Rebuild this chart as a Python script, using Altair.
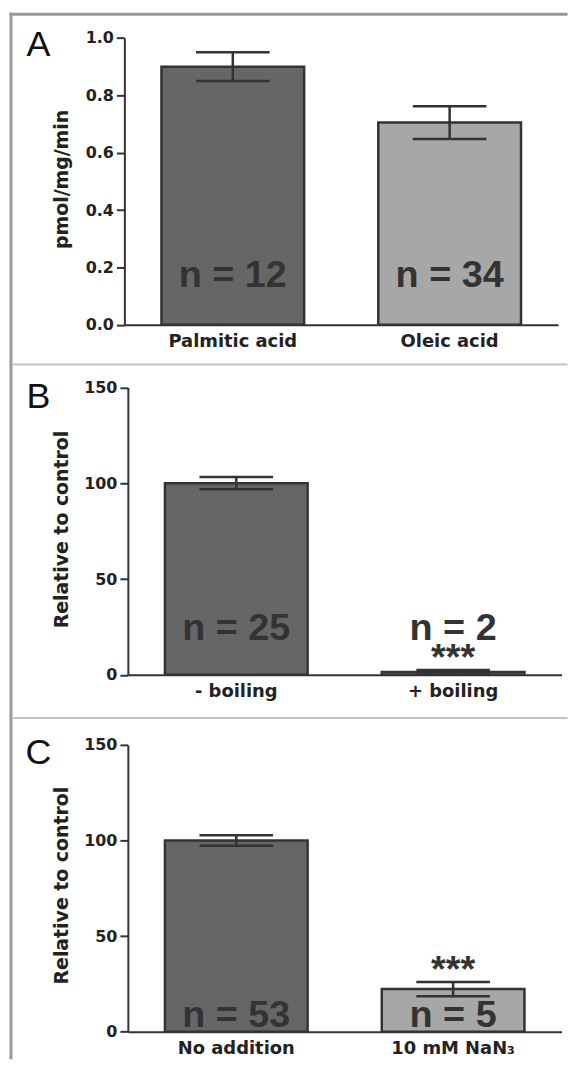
import altair as alt
import pandas as pd

# ---------------- data ----------------
a_cats = ["Palmitic acid", "Oleic acid"]
a_vals = [0.90, 0.705]
a_sem = [0.05, 0.057]
a_n = ["n = 12", "n = 34"]
a_sig = ["", ""]

b_cats = ["- boiling", "+ boiling"]
b_vals = [100.0, 1.5]
b_sem = [3.2, 1.0]
b_n = ["n = 25", "n = 2"]
b_sig = ["", "***"]

c_cats = ["No addition", "10 mM NaN\u2083"]
c_vals = [100.0, 22.3]
c_sem = [2.8, 3.7]
c_n = ["n = 53", "n = 5"]
c_sig = ["", "***"]

a_ticks = [0.0, 0.2, 0.4, 0.6, 0.8, 1.0]
bc_ticks = [0, 50, 100, 150]

fills = ["#666666", "#a7a7a7"]

INK = "#333333"
LABEL = "#222222"
one = pd.DataFrame({"k": [0]})


def panel(cats, vals, sem, ns, sig, letter, title, dom, ticks, fmt,
          H, top, x0, n_base, letter_y, title_y, title_x, extra=None):
    df = pd.DataFrame({
        "cat": cats,
        "val": vals,
        "lo": [v - s for v, s in zip(vals, sem)],
        "hi": [v + s for v, s in zip(vals, sem)],
        "n": ns,
        "sig": sig,
        "fill": fills,
    })
    W = 436
    xs = alt.Scale(range=[x0, x0 + W], paddingInner=0.342, paddingOuter=0.171)
    ys = alt.Scale(domain=dom, nice=False, zero=True, range=[H, top])
    x_axis = alt.Axis(title=None, labelAngle=0, ticks=False, tickSize=0,
                      labelPadding=8, labelFont="DejaVu Sans",
                      labelFontWeight="bold", labelFontSize=18,
                      labelColor=LABEL, domainColor=INK, domainWidth=2)
    y_axis = alt.Axis(values=ticks, format=fmt, title=title,
                      titleX=title_x, titleY=title_y, titleAngle=270,
                      titleAlign="center", titleBaseline="alphabetic",
                      titleFont="DejaVu Sans", titleFontWeight="bold",
                      titleFontSize=19, titleColor=LABEL,
                      labelFont="DejaVu Sans", labelFontWeight="bold",
                      labelFontSize=16, labelColor=LABEL, labelPadding=3,
                      tickSize=8, tickWidth=2, tickColor=INK,
                      domainColor=INK, domainWidth=2, grid=False,
                      offset=-x0)
    base = alt.Chart(df)
    X = alt.X("cat:N", sort=cats, scale=xs, axis=x_axis)

    def Y(field):
        return alt.Y(field, type="quantitative", scale=ys, axis=y_axis)

    bars = base.mark_bar(stroke=INK, strokeWidth=2.5, opacity=1).encode(
        x=X, y=Y("val"), color=alt.Color("fill:N", scale=None))
    err = base.mark_rule(color=INK, strokeWidth=2.5, opacity=1).encode(
        x=X, y=Y("lo"), y2="hi:Q")
    cap_hi = base.mark_tick(color=INK, size=74, thickness=2.5, opacity=1).encode(
        x=X, y=Y("hi"))
    cap_lo = base.mark_tick(color=INK, size=74, thickness=2.5, opacity=1).encode(
        x=X, y=Y("lo"))
    ntext = base.mark_text(font="Liberation Sans", fontWeight="bold",
                           fontSize=38, color=INK, align="center",
                           baseline="alphabetic").encode(
        x=X, y=alt.value(H - n_base), text="n:N")
    stars = base.mark_text(font="Liberation Sans", fontWeight="bold",
                           fontSize=38, color=INK, align="center",
                           baseline="alphabetic").encode(
        x=X, y=Y("hi"), text="sig:N")
    lab = alt.Chart(one).mark_text(font="Liberation Sans", fontSize=36,
                                   color="#111111", align="center",
                                   baseline="alphabetic").encode(
        x=alt.value(-86.5), y=alt.value(letter_y), text=alt.value(letter))
    layers = [bars, err, cap_hi, cap_lo, ntext, stars, lab]
    if extra:
        layers = layers + extra
    return alt.layer(*layers).properties(width=x0 + W, height=H)


# decorative frame (drawn in panel A's coordinates)
frame_top = alt.Chart(one).mark_rule(color="#999999", strokeWidth=3).encode(
    x=alt.value(-115.5), x2=alt.value(445.5), y=alt.value(1.5))
frame_left = alt.Chart(one).mark_rule(color="#999999", strokeWidth=3).encode(
    x=alt.value(-114), y=alt.value(0), y2=alt.value(1052))
sep1 = alt.Chart(one).mark_rule(color="#c4c4c4", strokeWidth=2).encode(
    x=alt.value(-112.5), x2=alt.value(445.5), y=alt.value(353.7))
sep2 = alt.Chart(one).mark_rule(color="#c4c4c4", strokeWidth=2).encode(
    x=alt.value(-112.5), x2=alt.value(445.5), y=alt.value(709))

pA = panel(a_cats, a_vals, a_sem, a_n, a_sig, "A", "pmol/mg/min",
           [0, 1.0], a_ticks, ".1f", H=313.7, top=25.3, x0=0,
           n_base=38.4, letter_y=43.7, title_y=167, title_x=-57,
           extra=[frame_top, frame_left, sep1, sep2])
pB = panel(b_cats, b_vals, b_sem, b_n, b_sig, "B", "Relative to control",
           [0, 150], bc_ticks, "d", H=351.6, top=62.6, x0=3.5,
           n_base=35, letter_y=83.3, title_y=205, title_x=-60.5)
pC = panel(c_cats, c_vals, c_sem, c_n, c_sig, "C", "Relative to control",
           [0, 150], bc_ticks, "d", H=358.4, top=70, x0=3.5,
           n_base=5, letter_y=89.7, title_y=211, title_x=-60.5)

chart = alt.vconcat(pA, pB, pC, spacing=0, bounds="flush").properties(
    padding=0, background="white"
).configure_view(stroke=None)

chart.save("out.html", embed_options={"renderer": "svg", "actions": False})
